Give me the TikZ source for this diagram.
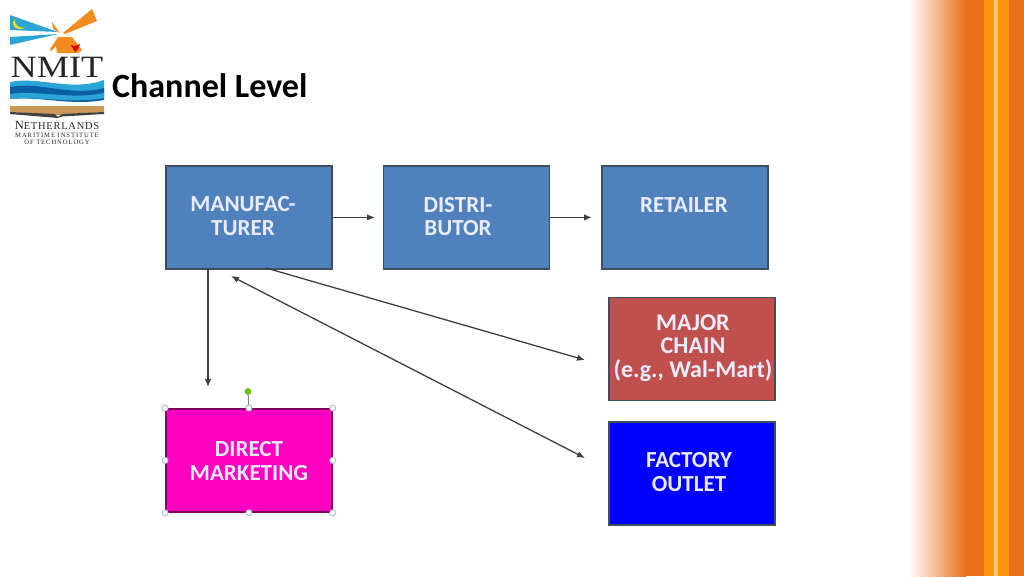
\documentclass[tikz,border=0pt]{standalone}
\usepackage{fontspec}
\setmainfont{Carlito}
\newfontfamily\logofont{Liberation Serif}
\newfontfamily\logosp[LetterSpace=14]{Liberation Serif}
\newfontfamily\logowide[LetterSpace=7]{Liberation Serif}
\definecolor{blueb}{HTML}{4F81BD}
\definecolor{redb}{HTML}{C0504D}
\definecolor{magb}{HTML}{FF00C0}
\definecolor{fullb}{HTML}{0000FF}
\definecolor{oranged}{HTML}{E8701A}
\definecolor{amber}{HTML}{FF9410}
\definecolor{lightam}{HTML}{FFC673}
\definecolor{lcy}{HTML}{2AA5D6}
\definecolor{ldk}{HTML}{0B5FA5}
\definecolor{lor}{HTML}{F28C1E}
\definecolor{ltan}{HTML}{C9995A}
\definecolor{hand}{HTML}{A9C2DA}
\definecolor{edge}{HTML}{3F4F60}
\usetikzlibrary{arrows.meta}
\tikzset{
 box/.style={draw=edge,line width=1.8pt,fill=#1,minimum width=166pt,minimum height=103pt,anchor=north west,inner sep=0pt},
 lab/.style={text=white!92!blue,font=\bfseries\fontsize{23}{23.5}\selectfont,align=center,inner sep=0pt},
 conn/.style={draw=black!75,line width=1.3pt,-{Latex[length=8pt,width=6.5pt]}},
 handle/.style={circle,draw=hand,fill=white,line width=1pt,minimum size=6pt,inner sep=0pt},
 lg/.style={text=black!85,inner sep=0pt}
}
\begin{document}
\begin{tikzpicture}[x=1pt,y=-1pt]
\useasboundingbox (0,0) rectangle (1024,576);
\fill[white] (0,0) rectangle (1024,576);
% right band
\shade[left color=white,right color=oranged,shading angle=90,draw=none] (908,0) rectangle (966,576);
\fill[oranged] (966,0) rectangle (984,576);
\fill[amber] (984,0) rectangle (1009,576);
\fill[lightam] (994,0) rectangle (998,576);
\fill[oranged] (1009,0) rectangle (1024,576);
% logo
\fill[lcy] (10,15) -- (58,32) -- (10,30) -- cycle;
\fill[lcy] (10,37) -- (58,34) -- (10,45) -- cycle;
\fill[yellow!90!orange] (15,19) .. controls (9,26) and (17,31) .. (25,28) .. controls (18,28) and (14,25) .. (15,19) -- cycle;
\fill[lor] (63,33) -- (92,9) -- (97,21) -- (65,34) -- cycle;
\fill[lor] (52,22) -- (60,33) -- (53,29) -- cycle;
\fill[lor] (58,37) -- (72,37) -- (82,50) -- (78,53) -- (68,53) -- (57,53) -- (56,46) -- (51,51) -- (50,49) -- cycle;
\fill[red!85!black] (71,45) -- (75,46) -- (80,44) -- (78,49) -- (75,52) -- cycle;
\node[lg,font=\logofont\fontsize{31}{31}\selectfont,xscale=1.17,transform shape] (nmit) at (57,67) {NMIT};
\fill[lcy] (10,82) .. controls (40,76) and (70,92) .. (104,80) -- (104,93) .. controls (70,100) and (40,90) .. (10,96) -- cycle;
\fill[ldk] (10,87) .. controls (40,81) and (70,97) .. (104,88) -- (104,100) .. controls (70,106) and (40,96) .. (10,99) -- cycle;
\fill[lcy] (10,94) .. controls (40,90) and (70,100) .. (104,93) -- (104,98) .. controls (70,104) and (40,96) .. (10,99) -- cycle;
\fill[ltan] (10,106) -- (104,106) -- (104,112) -- (60,115) -- (10,112) -- cycle;
\fill[black!75] (10,112) -- (55,114) -- (58,117) -- (62,114) -- (104,112) -- (104,114) -- (62,116.5) -- (58,118) -- (10,114) -- cycle;
\node[lg,font=\logowide\fontsize{12.5}{12.5}\selectfont] (nl) at (57,125) {N\fontsize{10.5}{10.5}\selectfont ETHERLANDS};
\node[lg,font=\logosp\fontsize{6.6}{6.6}\selectfont] (mi) at (57,135.5) {MARITIME INSTITUTE};
\node[lg,font=\logosp\fontsize{6.6}{6.6}\selectfont] (ot) at (57,142) {OF TECHNOLOGY};
% title
\node[font=\bfseries\fontsize{34}{34}\selectfont,text=black,inner sep=0pt,anchor=west] (title) at (112,85.5) {Channel Level};
% boxes
\node[box=blueb] (man) at (165,165) {};
\node[box=blueb] (dis) at (382.5,165) {};
\node[box=blueb] (ret) at (601,165) {};
\node[box=redb] (maj) at (608,296.5) {};
\node[box=fullb] (fac) at (608,421) {};
\node[box=magb,draw=magb!50!black] (dir) at (165,408) {};
% labels
\node[lab] (tman) at (243,216) {MANUFAC-\\TURER};
\node[lab] (tdis) at (458,216.5) {DISTRI-\\BUTOR};
\node[lab] (tret) at (684,205) {RETAILER};
\node[lab,font=\bfseries\fontsize{24}{23.5}\selectfont] (tmaj) at (693,348) {MAJOR\\CHAIN\\(e.g., Wal-Mart)};
\node[lab] (tfac) at (689,472) {FACTORY\\OUTLET};
\node[lab] (tdir) at (249,461) {DIRECT\\MARKETING};
% connectors
\coordinate (a1) at (man.east -| 375,0);
\coordinate (a2) at (dis.east -| 592,0);
\coordinate (a3) at (208,387);
\coordinate (a4) at (585,360);
\coordinate (a5) at (585,458);
\coordinate (a6) at (231,276);
\coordinate (s3) at (208,268);
\coordinate (s4) at (266,268);
\draw[conn] (man.east) -- (a1);
\draw[conn] (dis.east) -- (a2);
\draw[conn] (s3) -- (a3);
\draw[conn] (s4) -- (a4);
\draw[conn,{Latex[length=8pt,width=6.5pt]}-{Latex[length=8pt,width=6.5pt]}] (a6) -- (a5);
% selection handles
\coordinate (rot) at (248,391.5);
\draw[hand!70!black,line width=1pt] (dir.north) -- (rot);
\fill[green!45!yellow!75!black] (rot) circle (3.4pt);
\foreach \n/\a in {h1/north west,h2/north,h3/north east,h4/west,h5/east,h6/south west,h7/south,h8/south east}
  \node[handle] (\n) at (dir.\a) {};
\end{tikzpicture}
\end{document}
